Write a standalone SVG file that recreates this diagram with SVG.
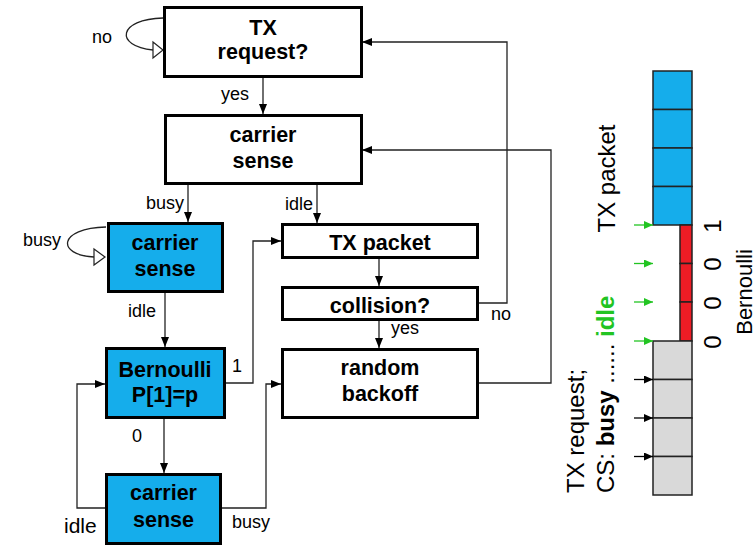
<svg xmlns="http://www.w3.org/2000/svg" width="756" height="550" viewBox="0 0 756 550">
<style>
  .box { fill: #ffffff; stroke: #000; stroke-width: 3; }
  .blue { fill: #15ADEB; stroke: #000; stroke-width: 3; }
  .bt { font-family: "Liberation Sans", Arial, sans-serif; font-weight: bold; font-size: 21.5px; text-anchor: middle; fill: #000; }
  .lb { font-family: "Liberation Sans", Arial, sans-serif; font-size: 18px; fill: #000; }
  .rt { font-family: "Liberation Sans", Arial, sans-serif; font-size: 24px; fill: #000; }
  .con { fill: none; stroke: #222; stroke-width: 1.3; }
  .cell { stroke: #222; stroke-width: 1.5; }
</style>
<defs>
  <marker id="ah" markerUnits="userSpaceOnUse" markerWidth="10" markerHeight="8" refX="10" refY="4" orient="auto">
    <path d="M0,0 L10,4 L0,8 z" fill="#000"/>
  </marker>
  <marker id="ahg" markerUnits="userSpaceOnUse" markerWidth="9" markerHeight="8" refX="9" refY="4" orient="auto">
    <path d="M0,0 L9,4 L0,8 z" fill="#22C422"/>
  </marker>
  <marker id="ahk" markerUnits="userSpaceOnUse" markerWidth="9" markerHeight="8" refX="9" refY="4" orient="auto">
    <path d="M0,0 L9,4 L0,8 z" fill="#000"/>
  </marker>
</defs>

<g id="connectors">
  <path class="con" d="M263,78 V114" marker-end="url(#ah)"/>
  <path class="con" d="M188,185 V222" marker-end="url(#ah)"/>
  <path class="con" d="M317,185 V223" marker-end="url(#ah)"/>
  <path class="con" d="M165,293 V347" marker-end="url(#ah)"/>
  <path class="con" d="M226,383 H253 V241 H281" marker-end="url(#ah)"/>
  <path class="con" d="M164,419 V473" marker-end="url(#ah)"/>
  <path class="con" d="M105,508 H77 V384 H105" marker-end="url(#ah)"/>
  <path class="con" d="M222,508 H266 V384 H281" marker-end="url(#ah)"/>
  <path class="con" d="M379,259 V286" marker-end="url(#ah)"/>
  <path class="con" d="M379,321 V348" marker-end="url(#ah)"/>
  <path class="con" d="M479,303 H507 V42 H362" marker-end="url(#ah)"/>
  <path class="con" d="M479,383 H551 V150 H362" marker-end="url(#ah)"/>
  <path class="con" d="M163,18 C118,19 114,46 153,50"/>
  <polygon points="153,42 163,50 153,58" fill="#fff" stroke="#222" stroke-width="1.2"/>
  <path class="con" d="M106,227 C58,228 56,255 94,257"/>
  <polygon points="94,249 105,257 94,265" fill="#fff" stroke="#222" stroke-width="1.2"/>
</g>

<g id="labels">
  <text class="lb" x="92" y="43">no</text>
  <text class="lb" x="221" y="100">yes</text>
  <text class="lb" x="146" y="209">busy</text>
  <text class="lb" x="285" y="210">idle</text>
  <text class="lb" x="23" y="246">busy</text>
  <text class="lb" x="128" y="317">idle</text>
  <text class="lb" x="232" y="372">1</text>
  <text class="lb" x="132" y="442">0</text>
  <text class="lb" x="64" y="533" style="font-size:21px">idle</text>
  <text class="lb" x="232" y="528">busy</text>
  <text class="lb" x="491" y="320">no</text>
  <text class="lb" x="391" y="334">yes</text>
</g>

<g id="tx-request">
  <rect class="box" x="164.5" y="7.5" width="197" height="69"/>
  <text class="bt" x="263" y="35">TX</text>
  <text class="bt" x="263" y="59">request?</text>
</g>
<g id="carrier-sense-1">
  <rect class="box" x="165.5" y="115.5" width="196" height="68"/>
  <text class="bt" x="263" y="142">carrier</text>
  <text class="bt" x="263" y="168">sense</text>
</g>
<g id="carrier-sense-2">
  <rect class="blue" x="108.5" y="223.5" width="114" height="68"/>
  <text class="bt" x="165" y="250">carrier</text>
  <text class="bt" x="165" y="276">sense</text>
</g>
<g id="bernoulli">
  <rect class="blue" x="106.5" y="348.5" width="118" height="69"/>
  <text class="bt" x="165" y="377">Bernoulli</text>
  <text class="bt" x="165" y="402">P[1]=p</text>
</g>
<g id="carrier-sense-3">
  <rect class="blue" x="106.5" y="474.5" width="114" height="69"/>
  <text class="bt" x="163.5" y="500">carrier</text>
  <text class="bt" x="163.5" y="527">sense</text>
</g>
<g id="tx-packet">
  <rect class="box" x="282.5" y="224.5" width="195" height="33"/>
  <text class="bt" x="380" y="250">TX packet</text>
</g>
<g id="collision">
  <rect class="box" x="282.5" y="287.5" width="195" height="32"/>
  <text class="bt" x="380" y="313">collision?</text>
</g>
<g id="random-backoff">
  <rect class="box" x="282.5" y="349.5" width="195" height="68"/>
  <text class="bt" x="380" y="375">random</text>
  <text class="bt" x="380" y="401">backoff</text>
</g>

<g id="timeline">
  <rect class="cell" x="653" y="71" width="39" height="38.5" fill="#15ADEB"/>
  <rect class="cell" x="653" y="109.5" width="39" height="38.5" fill="#15ADEB"/>
  <rect class="cell" x="653" y="148" width="39" height="38.5" fill="#15ADEB"/>
  <rect class="cell" x="653" y="186.5" width="39" height="38.5" fill="#15ADEB"/>
  <rect class="cell" x="680" y="225" width="12" height="38.5" fill="#EE1C25"/>
  <rect class="cell" x="680" y="263.5" width="12" height="38.5" fill="#EE1C25"/>
  <rect class="cell" x="680" y="302" width="12" height="39" fill="#EE1C25"/>
  <rect class="cell" x="653" y="341" width="39" height="38.5" fill="#D9D9D9"/>
  <rect class="cell" x="653" y="379.5" width="39" height="38.5" fill="#D9D9D9"/>
  <rect class="cell" x="653" y="418" width="39" height="38.5" fill="#D9D9D9"/>
  <rect class="cell" x="653" y="456.5" width="39" height="38.5" fill="#D9D9D9"/>
  <path d="M634,225 H653" stroke="#22C422" stroke-width="1.3" marker-end="url(#ahg)"/>
  <path d="M634,263.5 H653" stroke="#22C422" stroke-width="1.3" marker-end="url(#ahg)"/>
  <path d="M634,302 H653" stroke="#22C422" stroke-width="1.3" marker-end="url(#ahg)"/>
  <path d="M634,341 H653" stroke="#22C422" stroke-width="1.3" marker-end="url(#ahg)"/>
  <path d="M634,379.5 H653" stroke="#000" stroke-width="1.3" marker-end="url(#ahk)"/>
  <path d="M634,418 H653" stroke="#000" stroke-width="1.3" marker-end="url(#ahk)"/>
  <path d="M634,456.5 H653" stroke="#000" stroke-width="1.3" marker-end="url(#ahk)"/>
  <text class="rt" transform="translate(615,178.5) rotate(-90)" text-anchor="middle">TX packet</text>
  <text class="rt" transform="translate(584,493) rotate(-90)">TX request;</text>
  <text class="rt" transform="translate(614,493) rotate(-90)">CS: <tspan font-weight="bold">busy</tspan> ...... <tspan font-weight="bold" fill="#22C422">idle</tspan></text>
  <text class="rt" transform="translate(721,226) rotate(-90)" text-anchor="middle">1</text>
  <text class="rt" transform="translate(721,264) rotate(-90)" text-anchor="middle">0</text>
  <text class="rt" transform="translate(721,303) rotate(-90)" text-anchor="middle">0</text>
  <text class="rt" transform="translate(721,342) rotate(-90)" text-anchor="middle">0</text>
  <text class="rt" transform="translate(752,292) rotate(-90)" text-anchor="middle" style="font-size:22px">Bernoulli</text>
</g>
</svg>
